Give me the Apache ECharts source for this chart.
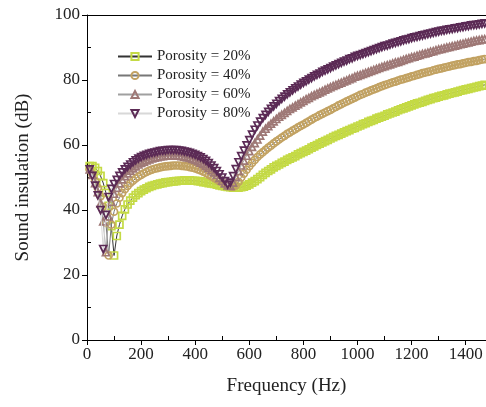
<!DOCTYPE html>
<html>
<head>
<meta charset="utf-8">
<script src="https://cdn.jsdelivr.net/npm/echarts@6/dist/echarts.min.js"></script>
<style>html,body{margin:0;padding:0;background:#fff;}#c{width:486px;height:407px;}</style>
</head>
<body>
<div id="c"></div>
<script>
var freq = [10,20,30,40,50,60,70,80,90,100,
110,120,130,140,150,160,170,180,190,200,
210,220,230,240,250,260,270,280,290,300,
310,320,330,340,350,360,370,380,390,400,
410,420,430,440,450,460,470,480,490,500,
510,520,530,540,550,560,570,580,590,600,
610,620,630,640,650,660,670,680,690,700,
710,720,730,740,750,760,770,780,790,800,
810,820,830,840,850,860,870,880,890,900,
910,920,930,940,950,960,970,980,990,1000,
1010,1020,1030,1040,1050,1060,1070,1080,1090,1100,
1110,1120,1130,1140,1150,1160,1170,1180,1190,1200,
1210,1220,1230,1240,1250,1260,1270,1280,1290,1300,
1310,1320,1330,1340,1350,1360,1370,1380,1390,1400,
1410,1420,1430,1440,1450,1460,1470,1480];

var seriesNames = ['Porosity = 20%','Porosity = 40%','Porosity = 60%','Porosity = 80%'];

var p20 = [53.5,53.5,53.0,52.0,50.5,48.3,45.3,41.3,35.0,26.0,
32.0,35.5,38.2,40.2,41.7,42.9,43.8,44.6,45.2,45.8,
46.3,46.7,47.1,47.4,47.7,47.9,48.1,48.3,48.5,48.6,
48.7,48.8,48.9,49.0,49.0,49.1,49.1,49.1,49.0,49.0,
48.9,48.8,48.6,48.5,48.3,48.2,48.0,47.8,47.6,47.4,
47.3,47.1,47.0,46.9,46.9,46.9,47.0,47.2,47.5,47.9,
48.4,48.9,49.5,50.1,50.8,51.4,52.0,52.5,53.1,53.6,
54.0,54.5,54.9,55.4,55.8,56.2,56.6,57.1,57.5,57.9,
58.3,58.7,59.2,59.6,60.0,60.4,60.8,61.2,61.6,62.0,
62.4,62.8,63.1,63.5,63.9,64.3,64.6,65.0,65.3,65.7,
66.0,66.4,66.7,67.1,67.4,67.7,68.1,68.4,68.7,69.0,
69.4,69.7,70.0,70.3,70.7,71.0,71.3,71.6,71.9,72.2,
72.5,72.8,73.0,73.3,73.6,73.9,74.1,74.4,74.6,74.9,
75.1,75.3,75.6,75.8,76.0,76.2,76.4,76.7,76.9,77.1,
77.3,77.5,77.7,77.9,78.1,78.3,78.5,78.7];

var p40 = [52.5,51.0,49.0,46.8,44.2,41.0,36.0,26.0,35.5,39.5,
42.0,43.8,45.2,46.4,47.4,48.3,49.0,49.7,50.3,50.8,
51.3,51.7,52.1,52.4,52.7,52.9,53.1,53.3,53.4,53.5,
53.6,53.7,53.7,53.7,53.6,53.5,53.4,53.2,53.0,52.8,
52.5,52.2,51.8,51.4,50.9,50.4,49.9,49.4,48.9,48.4,
48.0,47.6,47.3,47.2,47.6,48.7,50.0,51.2,52.4,53.5,
54.5,55.4,56.3,57.1,57.8,58.5,59.2,59.8,60.5,61.1,
61.7,62.3,62.8,63.4,63.9,64.4,64.9,65.4,65.9,66.3,
66.8,67.3,67.8,68.3,68.7,69.2,69.6,70.0,70.4,70.8,
71.3,71.7,72.2,72.6,73.0,73.4,73.8,74.2,74.6,75.0,
75.4,75.7,76.1,76.4,76.8,77.1,77.4,77.8,78.1,78.4,
78.7,79.0,79.3,79.5,79.8,80.1,80.3,80.6,80.8,81.1,
81.3,81.6,81.8,82.1,82.3,82.5,82.7,83.0,83.2,83.4,
83.6,83.8,84.0,84.2,84.4,84.6,84.8,84.9,85.1,85.3,
85.5,85.6,85.8,85.9,86.1,86.3,86.4,86.6];

var p60 = [52.5,50.8,48.3,45.5,42.0,36.5,27.0,38.0,42.5,45.0,
46.8,48.2,49.4,50.4,51.3,52.1,52.8,53.4,54.0,54.5,
54.9,55.3,55.6,55.9,56.1,56.3,56.5,56.6,56.7,56.8,
56.8,56.8,56.8,56.7,56.6,56.4,56.2,56.0,55.7,55.4,
55.0,54.6,54.1,53.6,53.0,52.3,51.6,50.8,49.9,49.0,
48.2,47.6,47.4,48.4,50.2,52.0,53.7,55.2,56.7,58.1,
59.4,60.6,61.7,62.9,64.1,65.0,65.8,66.6,67.3,68.0,
68.7,69.3,69.9,70.5,71.1,71.6,72.1,72.6,73.1,73.6,
74.1,74.5,75.0,75.4,75.8,76.2,76.6,77.0,77.4,77.8,
78.2,78.5,78.9,79.2,79.6,79.9,80.3,80.6,81.0,81.3,
81.6,81.9,82.2,82.5,82.8,83.1,83.4,83.7,84.0,84.3,
84.6,84.8,85.1,85.4,85.6,85.9,86.2,86.5,86.7,87.0,
87.2,87.5,87.7,88.0,88.2,88.4,88.7,88.9,89.2,89.4,
89.6,89.8,90.0,90.2,90.4,90.6,90.8,91.0,91.2,91.4,
91.6,91.8,92.0,92.2,92.3,92.5,92.6,92.8];

var p80 = [52.5,50.5,47.5,44.5,40.0,28.0,38.5,44.0,46.5,48.0,
49.3,50.5,51.6,52.5,53.3,54.0,54.7,55.3,55.8,56.3,
56.7,57.0,57.3,57.5,57.7,57.9,58.1,58.2,58.3,58.4,
58.4,58.4,58.4,58.3,58.2,58.0,57.8,57.6,57.3,57.0,
56.6,56.2,55.7,55.1,54.4,53.7,52.9,52.0,51.0,50.0,
48.9,47.8,48.4,50.4,52.6,54.7,56.6,58.3,59.9,61.5,
63.2,64.7,66.0,67.2,68.3,69.3,70.2,71.1,71.9,72.7,
73.5,74.2,74.9,75.6,76.2,76.8,77.4,78.0,78.6,79.1,
79.6,80.1,80.6,81.1,81.6,82.0,82.5,82.9,83.3,83.7,
84.1,84.5,84.9,85.3,85.7,86.0,86.4,86.7,87.1,87.4,
87.7,88.0,88.3,88.6,88.9,89.2,89.5,89.8,90.1,90.4,
90.6,90.9,91.2,91.4,91.7,91.9,92.2,92.4,92.6,92.9,
93.1,93.3,93.5,93.7,93.9,94.1,94.3,94.5,94.7,94.9,
95.1,95.2,95.4,95.6,95.7,95.9,96.0,96.2,96.3,96.5,
96.6,96.8,96.9,97.0,97.1,97.3,97.4,97.5];

var seriesValues = [p20, p40, p60, p80];
var markerColors = ['#c4da45', '#c2a262', '#9e7876', '#5b2a55'];
var lineColors = ['#333333', '#777777', '#a0a0a0', '#d8d8d8'];
var symbols = ['rect', 'circle', 'triangle', 'triangle'];
var rotations = [0, 0, 0, 180];

var FONT = '"Liberation Serif", "Times New Roman", serif';

var series = seriesValues.map(function (vals, k) {
  return {
    name: seriesNames[k],
    type: 'line',
    data: freq.map(function (f, i) { return [f, vals[i]]; }),
    symbol: symbols[k],
    symbolRotate: rotations[k],
    symbolSize: 7,
    showAllSymbol: true,
    clip: true,
    lineStyle: { color: lineColors[k], width: 1 },
    itemStyle: { color: 'rgba(255,255,255,0)', borderColor: markerColors[k], borderWidth: 1.7 },
    emphasis: { disabled: true },
    z: 2 + k
  };
});

var chart = echarts.init(document.getElementById('c'), null, { renderer: 'canvas' });
chart.setOption({
  animation: false,
  backgroundColor: '#ffffff',
  grid: { left: 87, right: 0, top: 15, bottom: 67, containLabel: false },
  legend: {
    orient: 'vertical',
    left: 112,
    top: 44,
    itemWidth: 34,
    itemHeight: 9,
    itemGap: 4,
    textStyle: { fontFamily: FONT, fontSize: 15, color: '#222' },
    data: seriesNames
  },
  xAxis: [{
    type: 'value', min: 0, max: 1475, interval: 200,
    name: 'Frequency (Hz)', nameLocation: 'middle', nameGap: 37,
    nameTextStyle: { fontFamily: FONT, fontSize: 19, color: '#222' },
    axisLine: { show: true, onZero: false, lineStyle: { color: '#000', width: 1 } },
    axisTick: { show: true, length: 5, lineStyle: { color: '#000' } },
    minorTick: { show: true, splitNumber: 2, length: -4, lineStyle: { color: '#000' } },
    splitLine: { show: false },
    axisLabel: { fontFamily: FONT, fontSize: 17, color: '#222', margin: 6,
      formatter: function (v) { return String(v); } }
  }, {
    type: 'value', position: 'top', min: 0, max: 1475,
    axisLine: { show: true, onZero: false, lineStyle: { color: '#000', width: 1 } },
    axisTick: { show: false }, axisLabel: { show: false }, splitLine: { show: false }
  }],
  yAxis: {
    type: 'value', min: 0, max: 100, interval: 20,
    name: 'Sound insulation (dB)', nameLocation: 'middle', nameGap: 54,
    nameTextStyle: { fontFamily: FONT, fontSize: 19, color: '#222' },
    axisLine: { show: true, onZero: false, lineStyle: { color: '#000', width: 1 } },
    axisTick: { show: true, length: 5, lineStyle: { color: '#000' } },
    minorTick: { show: true, splitNumber: 2, length: -4, lineStyle: { color: '#000' } },
    splitLine: { show: false },
    axisLabel: { fontFamily: FONT, fontSize: 17, color: '#222', margin: 7,
      formatter: function (v) { return String(v); } }
  },
  series: series
});
</script>
</body>
</html>
